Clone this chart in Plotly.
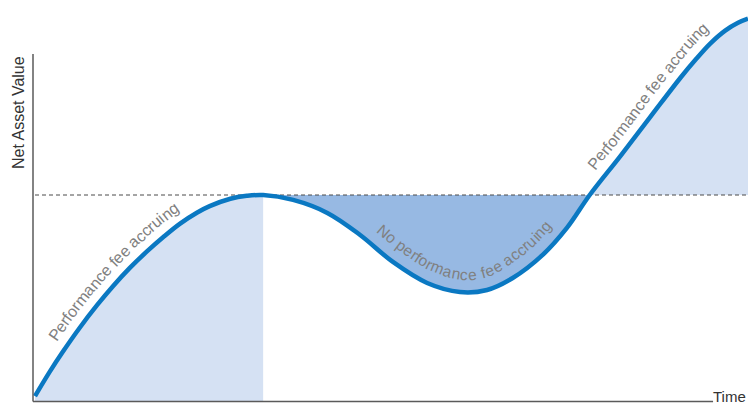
import math
import plotly.graph_objects as go

# ---- data -------------------------------------------------------------
# Time (arbitrary units) and net asset value of the fund
time = [0.0, 2.1, 3.9, 6.3, 8.7, 10.9, 13.3, 15.7, 18.0, 20.3, 22.7, 24.5,
        27.4, 29.7, 32.0, 36.2, 41.0, 45.6, 50.2, 55.0, 59.6, 63.4, 67.0,
        71.2, 74.6, 77.8, 82.1, 86.3, 90.5, 92.6, 94.7, 96.8, 98.6, 100.0]
nav = [2.4, 14.4, 23.9, 35.7, 46.5, 55.6, 64.6, 72.6, 79.6, 86.0, 91.4, 94.6,
       98.2, 99.6, 100.0, 97.6, 91.3, 80.6, 67.5, 57.3, 52.9, 53.9, 59.7,
       70.9, 84.0, 100.0, 118.9, 137.9, 156.8, 165.5, 173.5, 179.8, 183.6,
       185.6]

high_water_mark = 100.0
peak_index = 14      # first time the high-water mark is reached
cross_index = 25     # NAV climbs back through the high-water mark

# Curved captions: text, time at the centre, offset from line, font size
captions = [
    ("Performance fee accruing", 12.0, 16.0, 16),
    ("No performance fee accruing", 60.2, 18.0, 15.5),
    ("Performance fee accruing", 87.6, 16.0, 16),
]

axis_titles = {"y": "Net Asset Value", "x": "Time"}

# ---- styling ----------------------------------------------------------
W, H = 748, 406
X_RANGE = [-4.909, 100.0]
Y_RANGE = [-2.427, 194.66]
LINE = "#0a78c2"
LIGHT = "#d5e1f3"
DARK = "#97b9e3"
TEXT = "#808080"
FONT = "Liberation Sans, Arial, sans-serif"

# Helvetica/Arial advance widths (per 1000 em) for caption layout
ADV = {" ": 278, "P": 667, "e": 556, "r": 333, "f": 278, "o": 556, "m": 833,
       "a": 556, "n": 556, "c": 500, "u": 556, "i": 222, "g": 556, "N": 722,
       "p": 556}


def to_px(t, v):
    x = (t - X_RANGE[0]) / (X_RANGE[1] - X_RANGE[0]) * W
    y = H - (v - Y_RANGE[0]) / (Y_RANGE[1] - Y_RANGE[0]) * H
    return x, y


def to_data(x, y):
    t = X_RANGE[0] + x / W * (X_RANGE[1] - X_RANGE[0])
    v = Y_RANGE[0] + (H - y) / H * (Y_RANGE[1] - Y_RANGE[0])
    return t, v


def smooth_path(pts, steps=24):
    """Catmull-Rom path through pixel points, used to lay out captions."""
    out = []
    n = len(pts)
    for i in range(n - 1):
        p0 = pts[max(i - 1, 0)]
        p1 = pts[i]
        p2 = pts[i + 1]
        p3 = pts[min(i + 2, n - 1)]
        for k in range(steps):
            s = k / steps
            s2, s3 = s * s, s * s * s
            out.append(tuple(
                0.5 * (2 * p1[j] + (-p0[j] + p2[j]) * s
                       + (2 * p0[j] - 5 * p1[j] + 4 * p2[j] - p3[j]) * s2
                       + (-p0[j] + 3 * p1[j] - 3 * p2[j] + p3[j]) * s3)
                for j in range(2)))
    out.append(pts[-1])
    return out


def caption_annotations(text, t_center, offset, size):
    pts = smooth_path([to_px(t, v) for t, v in zip(time, nav)])
    # offset the path to the upper/left side of the line
    off = []
    for i in range(len(pts)):
        a = pts[max(i - 1, 0)]
        b = pts[min(i + 1, len(pts) - 1)]
        dx, dy = b[0] - a[0], b[1] - a[1]
        ln = math.hypot(dx, dy) or 1.0
        nx, ny = dy / ln, -dx / ln
        off.append((pts[i][0] + nx * offset, pts[i][1] + ny * offset))
    cum = [0.0]
    for i in range(1, len(off)):
        cum.append(cum[-1] + math.dist(off[i - 1], off[i]))
    xc = to_px(t_center, 0)[0]
    ic = min(range(len(pts)), key=lambda i: abs(pts[i][0] - xc))
    widths = [ADV[ch] / 1000 * size for ch in text]
    s = cum[ic] - sum(widths) / 2
    anns = []
    for ch, w in zip(text, widths):
        sc = s + w / 2
        s += w
        if ch == " ":
            continue
        j = next((k for k in range(1, len(cum)) if cum[k] >= sc), len(cum) - 1)
        f = (sc - cum[j - 1]) / ((cum[j] - cum[j - 1]) or 1.0)
        x = off[j - 1][0] + f * (off[j][0] - off[j - 1][0])
        y = off[j - 1][1] + f * (off[j][1] - off[j - 1][1])
        ang = math.degrees(math.atan2(off[j][1] - off[j - 1][1],
                                      off[j][0] - off[j - 1][0]))
        tx, ty = to_data(x, y)
        anns.append(dict(x=tx, y=ty, xref="x", yref="y", text=ch,
                         showarrow=False, textangle=ang,
                         xanchor="center", yanchor="middle",
                         font=dict(family=FONT, size=size, color=TEXT)))
    return anns


fig = go.Figure()

# performance fee accruing up to the first peak
fig.add_trace(go.Scatter(
    x=time[:peak_index + 1], y=nav[:peak_index + 1], mode="lines",
    line=dict(width=0, shape="spline"), fill="tozeroy", fillcolor=LIGHT))

# drawdown below the high-water mark
fig.add_trace(go.Scatter(
    x=time[peak_index:cross_index + 1], y=nav[peak_index:cross_index + 1],
    mode="lines", line=dict(width=0, shape="spline"),
    fill="toself", fillcolor=DARK))

# gain above the high-water mark
fig.add_trace(go.Scatter(
    x=[time[cross_index], time[-1]], y=[high_water_mark, high_water_mark],
    mode="lines", line=dict(width=0)))
fig.add_trace(go.Scatter(
    x=time[cross_index:], y=nav[cross_index:], mode="lines",
    line=dict(width=0, shape="spline"), fill="tonexty", fillcolor=LIGHT))

# high-water mark
fig.add_trace(go.Scatter(
    x=[time[0], time[-1]], y=[high_water_mark, high_water_mark], mode="lines",
    line=dict(color="#4a4a4a", width=1, dash="4px,3px")))

# NAV line
fig.add_trace(go.Scatter(
    x=time, y=nav, mode="lines",
    line=dict(color=LINE, width=4.5, shape="spline")))

annotations = []
for text, tc, off, size in captions:
    annotations += caption_annotations(text, tc, off, size)

annotations.append(dict(
    x=19 / W, y=1 - 113 / H, xref="paper", yref="paper",
    text=axis_titles["y"], textangle=-90, showarrow=False,
    xanchor="center", yanchor="middle",
    font=dict(family=FONT, size=16, color="#333333")))
annotations.append(dict(
    x=711 / W, y=1 - 396 / H, xref="paper", yref="paper",
    text=axis_titles["x"], showarrow=False,
    xanchor="left", yanchor="middle",
    font=dict(family=FONT, size=15, color="#333333")))

axis_color = "#5a5a5a"
shapes = [
    dict(type="line", xref="x", yref="y", x0=-0.28, x1=-0.28,
         y0=-0.2, y1=168.4, line=dict(color=axis_color, width=1.5)),
    dict(type="line", xref="x", yref="y", x0=-0.28, x1=95.1,
         y0=-0.2, y1=-0.2, line=dict(color=axis_color, width=1.5)),
]

fig.update_layout(
    width=W, height=H, margin=dict(l=0, r=0, t=0, b=0),
    paper_bgcolor="white", plot_bgcolor="white",
    showlegend=False, hovermode=False,
    xaxis=dict(range=X_RANGE, visible=False, fixedrange=True),
    yaxis=dict(range=Y_RANGE, visible=False, fixedrange=True),
    annotations=annotations, shapes=shapes,
)

fig.write_html("out.html", config={"displayModeBar": False})
